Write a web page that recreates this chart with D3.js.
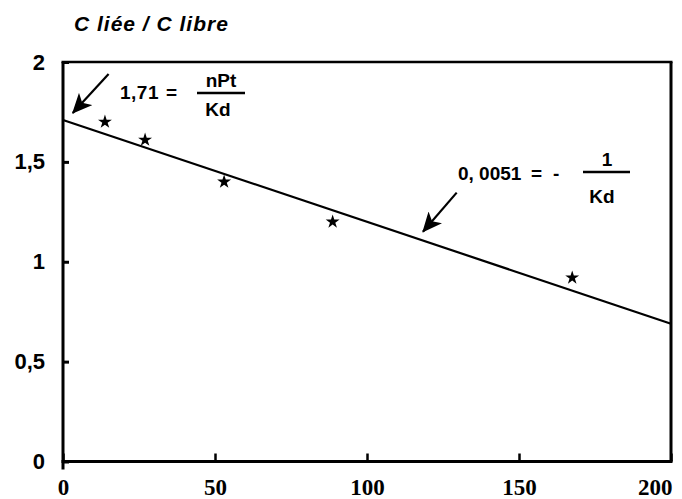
<!DOCTYPE html>
<html>
<head>
<meta charset="utf-8">
<script src="https://cdn.jsdelivr.net/npm/d3@7"></script>
<style>
  body { margin: 0; background: #fff; }
  svg { display: block; }
  .ylab text { font-family: "Liberation Sans", Arial, sans-serif; font-weight: bold; font-size: 22px; fill: #000; }
  .xlab text { font-family: "Liberation Serif", "Times New Roman", serif; font-weight: bold; font-size: 23px; fill: #000; }
  .note text { font-family: "Liberation Sans", Arial, sans-serif; font-weight: bold; font-size: 19px; fill: #000; }
</style>
</head>
<body>
<svg id="chart" width="682" height="499"></svg>
<script>
// valeurs
const pointsX = [13.8, 27, 53, 88.7, 167.5];
const pointsY = [1.70, 1.61, 1.40, 1.20, 0.92];
// droite de regression : 1,71 a l'origine, pente -0,0051
const fitX = [0, 200];
const fitY = [1.71, 0.69];
const xTicks = [0, 50, 100, 150, 200];
const yTicks = [0, 0.5, 1, 1.5, 2];
const yTickLabels = ["0", "0,5", "1", "1,5", "2"];

const svg = d3.select("#chart");
const margin = { top: 62, right: 11, bottom: 37.5, left: 63 };
const width = +svg.attr("width") - margin.left - margin.right;
const height = +svg.attr("height") - margin.top - margin.bottom;

const x = d3.scaleLinear().domain([0, 200]).range([0, width]);
const y = d3.scaleLinear().domain([0, 2]).range([height, 0]);

const g = svg.append("g")
  .attr("transform", "translate(" + margin.left + "," + margin.top + ")");

// titre de l'axe
svg.append("text")
  .attr("x", 74)
  .attr("y", 31)
  .style("font-family", "'Liberation Sans', Arial, sans-serif")
  .style("font-weight", "bold")
  .style("font-style", "italic")
  .style("font-size", "21px")
  .style("letter-spacing", "1px")
  .text("C liée / C libre");

// axe y
const yAxis = g.append("g")
  .attr("class", "ylab")
  .call(d3.axisLeft(y).tickValues(yTicks).tickSizeInner(-6).tickSizeOuter(0).tickPadding(18)
    .tickFormat(function(d, i) { return yTickLabels[i]; }));
yAxis.select(".domain").remove();
yAxis.selectAll("line").attr("stroke", "#000").attr("stroke-width", 3);

// axe x
const xAxis = g.append("g")
  .attr("class", "xlab")
  .attr("transform", "translate(0," + height + ")")
  .call(d3.axisBottom(x).tickValues(xTicks).tickSizeInner(-8).tickSizeOuter(0).tickPadding(17));
xAxis.select(".domain").remove();
xAxis.selectAll("line").attr("stroke", "#000").attr("stroke-width", 2.5);
xAxis.selectAll(".tick text")
  .filter(function(d) { return d === 200; })
  .attr("text-anchor", "end")
  .attr("x", 1);

// cadre
g.append("line").attr("x1", 0).attr("x2", 0).attr("y1", 0).attr("y2", height + 8)
  .attr("stroke", "#000").attr("stroke-width", 3);
g.append("line").attr("x1", -1.5).attr("x2", width + 1.5).attr("y1", height).attr("y2", height)
  .attr("stroke", "#000").attr("stroke-width", 3);
g.append("line").attr("x1", -1.5).attr("x2", width + 1.5).attr("y1", 0).attr("y2", 0)
  .attr("stroke", "#000").attr("stroke-width", 2.5);
g.append("line").attr("x1", width).attr("x2", width).attr("y1", 0).attr("y2", height)
  .attr("stroke", "#000").attr("stroke-width", 3);

// droite
const line = d3.line()
  .x(function(d, i) { return x(fitX[i]); })
  .y(function(d) { return y(d); });
g.append("path")
  .datum(fitY)
  .attr("d", line)
  .attr("fill", "none")
  .attr("stroke", "#000")
  .attr("stroke-width", 2.2);

// points
g.selectAll(".pt")
  .data(pointsX)
  .join("path")
  .attr("class", "pt")
  .attr("transform", function(d, i) { return "translate(" + x(d) + "," + y(pointsY[i]) + ")"; })
  .attr("d", d3.symbol().type(d3.symbolStar).size(60))
  .attr("fill", "#000");

// fleches
svg.append("defs").append("marker")
  .attr("id", "head")
  .attr("markerUnits", "userSpaceOnUse")
  .attr("viewBox", "0 0 20 18")
  .attr("refX", 19)
  .attr("refY", 9)
  .attr("markerWidth", 20)
  .attr("markerHeight", 18)
  .attr("orient", "auto")
  .append("path")
  .attr("d", "M0,0 L20,9 L0,18 L5,9 Z")
  .attr("fill", "#000");

const arrows = [
  { x1: 15, y1: 1.94, x2: 3.2, y2: 1.745 },
  { x1: 129.5, y1: 1.346, x2: 118.4, y2: 1.15 }
];
g.selectAll(".arrow")
  .data(arrows)
  .join("line")
  .attr("class", "arrow")
  .attr("x1", function(d) { return x(d.x1); })
  .attr("y1", function(d) { return y(d.y1); })
  .attr("x2", function(d) { return x(d.x2); })
  .attr("y2", function(d) { return y(d.y2); })
  .attr("stroke", "#000")
  .attr("stroke-width", 2.2)
  .attr("marker-end", "url(#head)");

// annotation 1,71 = nPt / Kd
const n1 = svg.append("g").attr("class", "note");
n1.append("text").attr("x", 120).attr("y", 99).style("letter-spacing", "0.5px").text("1,71");
n1.append("text").attr("x", 166).attr("y", 99).text("=");
n1.append("line").attr("x1", 197).attr("x2", 245).attr("y1", 93).attr("y2", 93)
  .attr("stroke", "#000").attr("stroke-width", 2.5);
n1.append("text").attr("x", 221).attr("y", 87).attr("text-anchor", "middle").text("nPt");
n1.append("text").attr("x", 218).attr("y", 116).attr("text-anchor", "middle").text("Kd");

// annotation 0,0051 = - 1 / Kd
const n2 = svg.append("g").attr("class", "note");
n2.append("text").attr("x", 458).attr("y", 180).text("0, 0051");
n2.append("text").attr("x", 531).attr("y", 180).text("=");
n2.append("text").attr("x", 553).attr("y", 180).text("-");
n2.append("line").attr("x1", 583).attr("x2", 630).attr("y1", 172).attr("y2", 172)
  .attr("stroke", "#000").attr("stroke-width", 2.5);
n2.append("text").attr("x", 607).attr("y", 166).attr("text-anchor", "middle").text("1");
n2.append("text").attr("x", 602).attr("y", 203).attr("text-anchor", "middle").text("Kd");
</script>
</body>
</html>
